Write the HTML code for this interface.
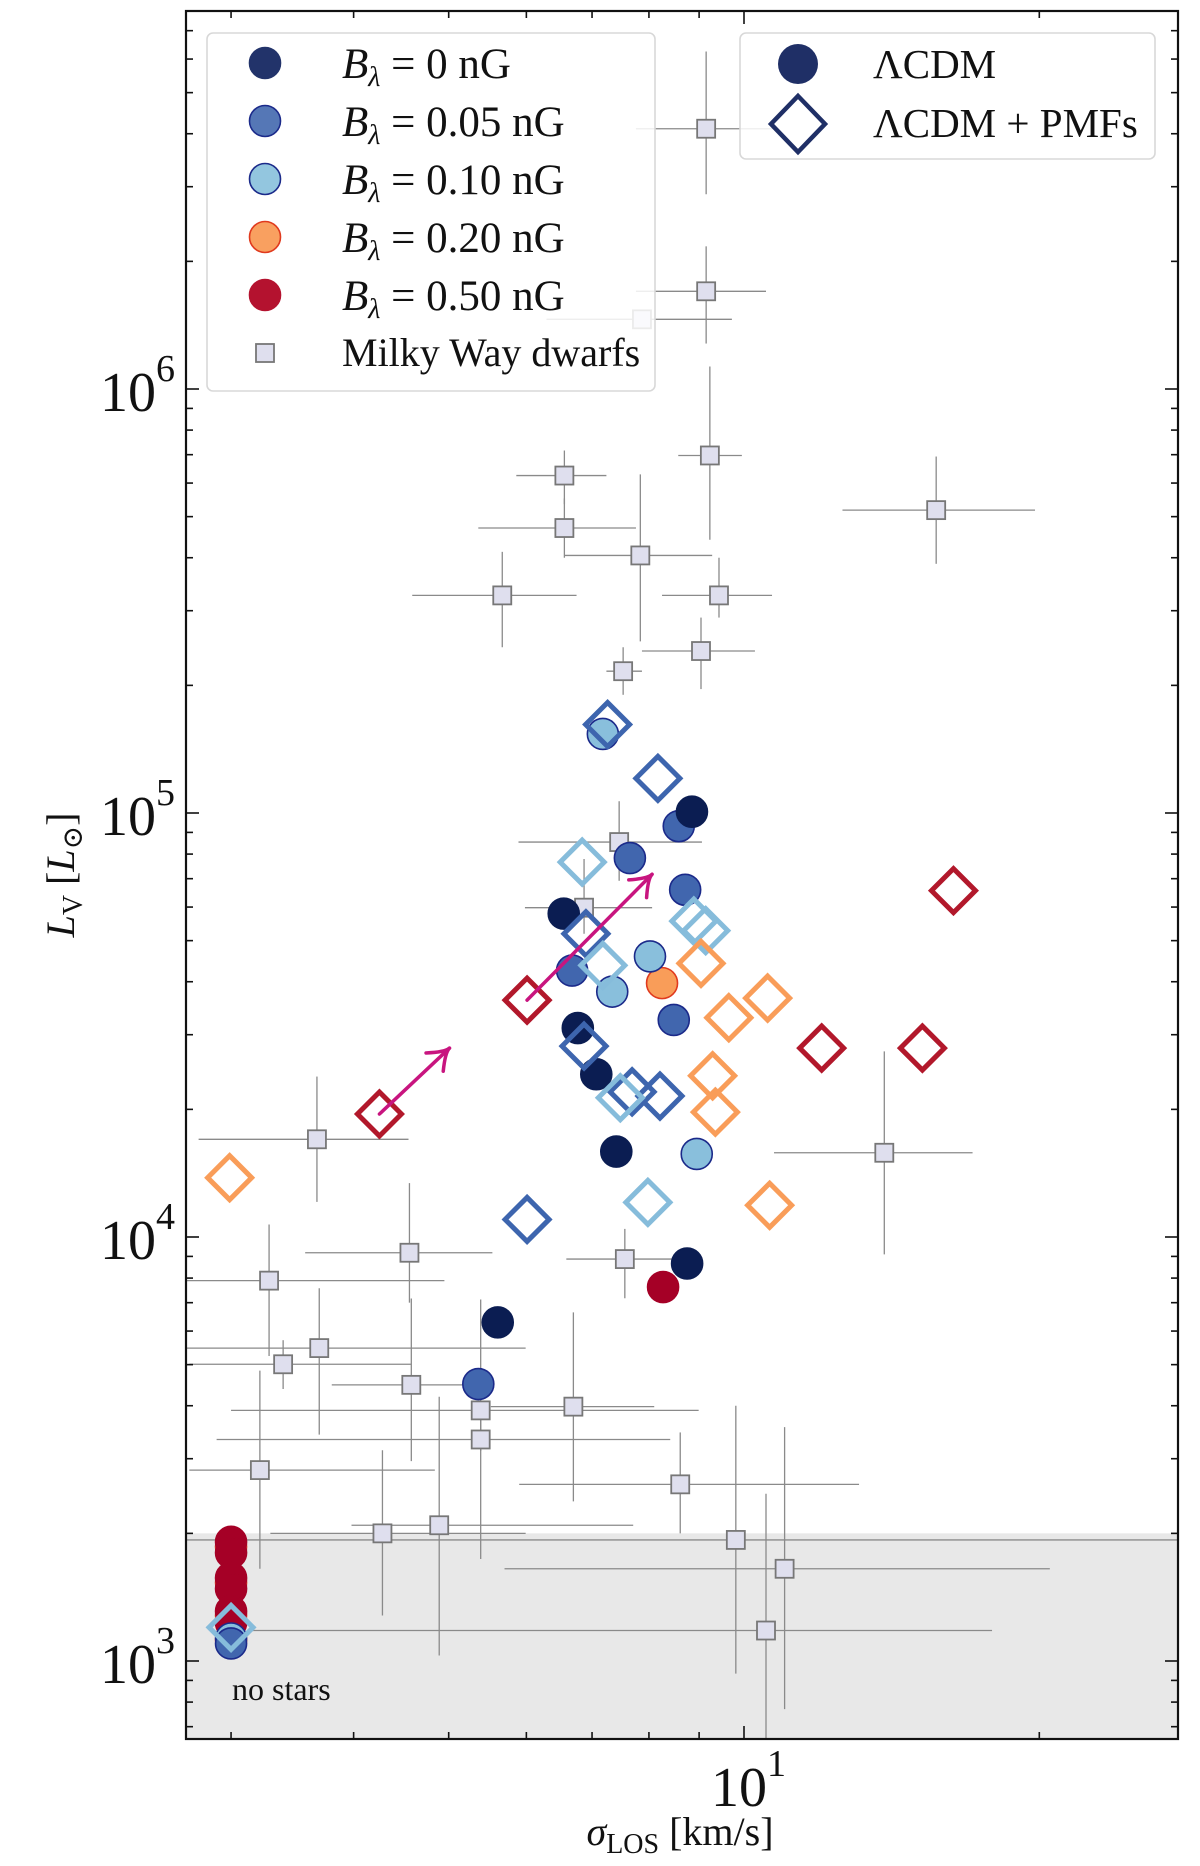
<!DOCTYPE html>
<html><head><meta charset="utf-8">
<style>
html,body{margin:0;padding:0;background:#fff;}
svg{display:block;}
text{font-family:"Liberation Serif","DejaVu Serif",serif;fill:#111;}
</style></head>
<body>
<svg id="chart" width="1200" height="1866" viewBox="0 0 1200 1866" xmlns="http://www.w3.org/2000/svg"></svg>
<script>
// ---- data ----
const cdm0 = [[8.85,1.007e5],[6.55,5.79e4],[6.77,3.11e4],[7.07,2.42e4],[7.41,1.59e4],[8.75,8.66e3],[5.61,6.29e3]];
const cdm005 = [[8.58,9.31e4],[7.65,7.83e4],[8.71,6.59e4],[6.68,4.25e4],[8.48,3.25e4],[5.36,4.50e3],[3.0,1.10e3]];
const cdm010 = [[7.18,1.536e5],[8.02,4.59e4],[7.34,3.79e4],[8.95,1.57e4],[3.0,1.13e3]];
const cdm020 = [[8.25,3.97e4],[3.0,1.86e3],[3.0,1.53e3],[3.0,1.28e3],[3.0,1.12e3]];
const cdm050 = [[8.27,7.62e3],[3.0,1.91e3],[3.0,1.80e3],[3.0,1.57e3],[3.0,1.48e3],[3.0,1.31e3],[3.0,1.23e3]];
const pmf005 = [[7.26,1.617e5],[8.17,1.207e5],[6.90,5.19e4],[6.87,2.82e4],[7.69,2.20e4],[8.21,2.15e4],[6.01,1.10e4]];
const pmf010 = [[6.84,7.66e4],[8.89,5.56e4],[9.14,5.28e4],[7.18,4.37e4],[7.48,2.13e4],[7.98,1.207e4],[3.0,1.20e3]];
const pmf020 = [[9.04,4.42e4],[10.57,3.66e4],[9.65,3.29e4],[9.29,2.40e4],[9.35,1.97e4],[10.62,1.188e4],[2.99,1.38e4]];
const pmf050 = [[4.25,1.95e4],[6.01,3.62e4],[12.0,2.79e4],[15.2,2.79e4],[16.35,6.56e4]];
const arrows = [[4.25,1.95e4,5.01,2.79e4],[6.01,3.62e4,8.06,7.17e4]];
// dwarfs: sigma, L, sigmaLo, sigmaHi, LLo, LHi
const dwarfs = [
[9.15,4.11e6,7.76,10.73,2.88e6,6.25e6],[9.15,1.70e6,7.76,10.53,1.28e6,2.17e6],
[7.87,1.46e6,6.29,9.72,1.46e6,1.46e6],[9.23,6.97e5,8.57,9.95,4.41e5,1.13e6],
[6.56,6.25e5,5.86,7.24,5.35e5,7.16e5],[6.56,4.70e5,5.36,7.76,4.00e5,5.52e5],
[15.7,5.18e5,12.6,19.8,3.87e5,6.93e5],[7.84,4.05e5,6.56,9.28,2.54e5,6.29e5],
[5.67,3.26e5,4.59,6.75,2.46e5,4.13e5],[9.43,3.26e5,8.25,10.68,2.89e5,4.00e5],
[9.04,2.41e5,7.87,10.26,1.96e5,2.89e5],[7.53,2.16e5,7.24,7.87,1.90e5,2.46e5],
[7.46,8.54e4,5.89,9.06,6.92e4,1.066e5],[6.87,5.98e4,5.98,8.06,5.19e4,7.79e4],
[3.67,1.70e4,2.78,4.55,1.21e4,2.39e4],[13.9,1.58e4,10.73,17.1,9.1e3,2.74e4],
[4.56,9.18e3,3.57,5.54,7.0e3,1.34e4],[7.56,8.87e3,6.59,8.44,7.17e3,1.045e4],
[3.28,7.89e3,2.70,4.95,5.24e3,1.07e4],[3.69,5.47e3,2.69,5.99,3.42e3,7.57e3],
[3.39,5.01e3,2.72,4.58,4.38e3,5.71e3],[4.58,4.48e3,3.80,5.20,2.96e3,7.16e3],
[5.39,3.90e3,3.0,8.99,3.13e3,7.12e3],[5.39,3.33e3,2.90,8.41,1.74e3,3.98e3],
[6.70,3.98e3,5.52,8.10,2.38e3,6.64e3],[3.21,2.82e3,2.72,4.84,1.65e3,4.84e3],
[8.61,2.61e3,5.90,13.1,2.0e3,3.46e3],[4.28,2.0e3,3.29,5.99,1.28e3,3.14e3],
[4.89,2.09e3,3.98,7.71,1.03e3,4.20e3],[9.81,1.93e3,2.69,27.9,934,4.0e3],
[11.0,1.65e3,5.70,20.5,770,3.56e3],[10.53,1.18e3,3.15,17.9,569,2.48e3]
];
const noStarsLimit = 2000;
const yTickExps = [3,4,5,6];
const xTickExps = [1];

// ---- axes ----
const L=186,R=1178,T=11,B=1739;
const X0=744, XDEC=981, Y0=1661, YDEC=424;
function sx(v){return X0+(Math.log10(v)-1)*XDEC;}
function sy(v){return Y0-(Math.log10(v)-3)*YDEC;}
const NS="http://www.w3.org/2000/svg";
const svg=document.getElementById('chart');
function mk(tag,attrs,parent){const e=document.createElementNS(NS,tag);for(const k in attrs)e.setAttribute(k,attrs[k]);(parent||svg).appendChild(e);return e;}

const defs=mk('defs',{});
const cp=mk('clipPath',{id:'pc'},defs);
mk('rect',{x:L,y:T,width:R-L,height:B-T},cp);
const plot=mk('g',{'clip-path':'url(#pc)'});



const shade=mk('rect',{x:L,y:sy(noStarsLimit),width:R-L,height:B-sy(noStarsLimit),fill:'#e8e8e8'},plot);


const nst=mk('text',{x:232,y:1700,'font-size':32},plot);
nst.textContent='no stars';



const eg=mk('g',{stroke:'#8a8a8a','stroke-width':1.3},plot);


dwarfs.forEach(d=>{
  mk('line',{x1:sx(d[2]),x2:sx(d[3]),y1:sy(d[1]),y2:sy(d[1])},eg);
  if(d[4]!==d[5]) mk('line',{x1:sx(d[0]),x2:sx(d[0]),y1:sy(d[4]),y2:sy(d[5])},eg);
});
dwarfs.forEach(d=>{
  const r=mk('rect',{x:sx(d[0])-9,y:sy(d[1])-9,width:18,height:18,fill:'#dfdfee',stroke:'#777','stroke-width':1.8},plot);
  
  
});

function circles(arr,fill,stroke,name){
  arr.forEach(p=>{
    const c=mk('circle',{cx:sx(p[0]),cy:sy(p[1]),r:15.5,fill:fill,stroke:stroke,'stroke-width':1.6},plot);
    
    
  });
}
function diamonds(arr,col,name){
  arr.forEach(p=>{
    const x=sx(p[0]),y=sy(p[1]),h=22;
    const d=mk('polygon',{points:`${x},${y-h} ${x+h},${y} ${x},${y+h} ${x-h},${y}`,fill:'none',stroke:col,'stroke-width':5},plot);
    
    
  });
}
circles(cdm020,'#f99d59','#e03a1e','lcdm-circle-b020');
circles(cdm050,'#a50026','#a50026','lcdm-circle-b050');
circles(cdm010,'#89bfdc','#1b2a8a','lcdm-circle-b010');
circles(cdm005,'#4166ae','#1b2a8a','lcdm-circle-b005');
circles(cdm0,'#0b1d52','#0b1d52','lcdm-circle-b0');
diamonds(pmf005,'#3d65ae','pmf-diamond-b005');
diamonds(pmf010,'#86bcdb','pmf-diamond-b010');
diamonds(pmf020,'#f99d59','pmf-diamond-b020');
diamonds(pmf050,'#b2182b','pmf-diamond-b050');

arrows.forEach(a=>{
  const x1=sx(a[0]),y1=sy(a[1]),x2=sx(a[2]),y2=sy(a[3]);
  const g=mk('g',{stroke:'#c8157f','stroke-width':3.5,fill:'none','stroke-linecap':'round'},plot);
  
  
  mk('line',{x1:x1,y1:y1,x2:x2,y2:y2},g);
  const ang=Math.atan2(y2-y1,x2-x1),len=24,sp=0.55;
  const ax=x2-len*Math.cos(ang-sp),ay=y2-len*Math.sin(ang-sp);
  const bx=x2-len*Math.cos(ang+sp),by=y2-len*Math.sin(ang+sp);
  mk('path',{d:`M${ax},${ay} Q${x2-6*Math.cos(ang)},${y2-6*Math.sin(ang)} ${x2},${y2} Q${x2-6*Math.cos(ang)},${y2-6*Math.sin(ang)} ${bx},${by}`},g);
});

const ax=mk('g',{stroke:'#111','stroke-width':1.6,fill:'none'});


mk('rect',{x:L,y:T,width:R-L,height:B-T,'stroke-width':2.2},ax);
for(let e=2;e<=6;e++){
  for(let m=1;m<=9;m++){
    const v=m*Math.pow(10,e),y=sy(v);
    if(y<T||y>B)continue;
    const l=m===1?13:7;
    mk('line',{x1:L,x2:L+l,y1:y,y2:y},ax);
    mk('line',{x1:R,x2:R-l,y1:y,y2:y},ax);
  }
}
for(let e=0;e<=1;e++){
  for(let m=1;m<=9;m++){
    const v=m*Math.pow(10,e),x=sx(v);
    if(x<L||x>R)continue;
    const l=m===1?13:7;
    mk('line',{x1:x,x2:x,y1:B,y2:B-l},ax);
    mk('line',{x1:x,x2:x,y1:T,y2:T+l},ax);
  }
}
yTickExps.forEach(e=>{
  const y=sy(Math.pow(10,e));
  const t=mk('text',{x:100,y:y+22,'font-size':56});
  
  
  t.innerHTML='10<tspan dy="-30" font-size="38">'+e+'</tspan>';
});
xTickExps.forEach(e=>{
  const x=sx(Math.pow(10,e));
  const t=mk('text',{x:x-33,y:1806,'font-size':56});
  
  
  t.innerHTML='10<tspan dy="-30" font-size="38">'+e+'</tspan>';
});
const xl=mk('text',{x:680,y:1845,'font-size':40,'text-anchor':'middle'});


xl.innerHTML='<tspan font-style="italic">σ</tspan><tspan font-size="28" dy="8">LOS</tspan><tspan dy="-8"> [km/s]</tspan>';
const yl=mk('text',{x:0,y:0,'font-size':40,'text-anchor':'middle',transform:'translate(74,875) rotate(-90)'});


yl.innerHTML='<tspan font-style="italic">L</tspan><tspan font-size="28" dy="8">V</tspan><tspan dy="-8"> [</tspan><tspan font-style="italic">L</tspan><tspan font-size="28" dy="8">⊙</tspan><tspan dy="-8">]</tspan>';

const lg=mk('g',{});


mk('rect',{x:207,y:33,width:448,height:358,rx:6,fill:'#fff','fill-opacity':0.85,stroke:'#d8d8d8','stroke-width':1.6},lg);
const legItems=[['0','#22336a','#22336a'],['0.05','#5577b6','#1b2a8a'],['0.10','#93c6df','#1b2a8a'],['0.20','#f9a060','#e03a1e'],['0.50','#b4122f','#b4122f']];
legItems.forEach((it,i)=>{
  const y=63+i*58;
  const g=mk('g',{},lg);
  
  
  mk('circle',{cx:265,cy:y,r:15.5,fill:it[1],stroke:it[2],'stroke-width':1.6},g);
  const t=mk('text',{x:342,y:y+15,'font-size':43},g);
  t.innerHTML='<tspan font-style="italic">B</tspan><tspan font-style="italic" font-size="28" dy="8">λ</tspan><tspan dy="-8"> =  '+it[0]+'  nG</tspan>';
});
{
  const y=63+5*58;
  const g=mk('g',{},lg);
  
  
  mk('rect',{x:256,y:y-9,width:18,height:18,fill:'#dfdfee',stroke:'#777','stroke-width':1.8},g);
  const t=mk('text',{x:342,y:y+13,'font-size':40},g);
  t.textContent='Milky Way dwarfs';
}
const lg2=mk('g',{});


mk('rect',{x:740,y:33,width:415,height:126,rx:6,fill:'#fff','fill-opacity':0.85,stroke:'#d8d8d8','stroke-width':1.6},lg2);
mk('circle',{cx:798,cy:64,r:20,fill:'#1f2f66'},lg2);
mk('polygon',{points:'798,96 825,124 798,152 771,124',fill:'none',stroke:'#1f2f66','stroke-width':4.5},lg2);
const t1=mk('text',{x:873,y:78,'font-size':41},lg2);t1.textContent='ΛCDM';
const t2=mk('text',{x:873,y:137,'font-size':41},lg2);t2.textContent='ΛCDM + PMFs';
</script>
</body></html>
